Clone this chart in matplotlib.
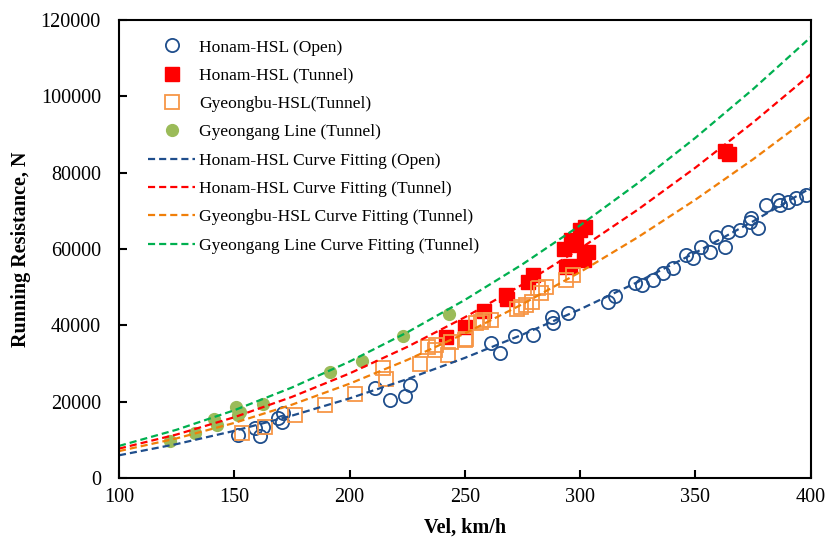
import matplotlib
matplotlib.use("Agg")
import matplotlib.pyplot as plt
import numpy as np

plt.rcParams['font.family'] = ['Liberation Serif', 'DejaVu Serif']

# measured points
open_v = [151.7, 158.9, 161.1, 162.5, 169.0, 170.5, 171.2, 211.0, 217.5, 224.0, 226.1,
          261.5, 265.1, 271.6, 279.6, 287.6, 288.3, 294.8, 312.1, 315.0, 323.7, 326.6,
          331.6, 335.9, 340.3, 346.1, 348.9, 352.6, 356.2, 359.1, 362.7, 364.1, 369.2,
          373.5, 374.3, 377.1, 380.8, 385.8, 386.5, 390.1, 393.8, 398.1]
open_r = [11300, 13200, 11000, 13450, 15700, 14750, 17100, 23600, 20500, 21500, 24300,
          35300, 32800, 37200, 37500, 42300, 40600, 43300, 46200, 47700, 51000, 50600,
          51900, 53600, 54900, 58400, 57600, 60600, 59300, 63200, 60600, 64500, 65000,
          67200, 68000, 65400, 71500, 72800, 71500, 72400, 73300, 74100]

tun_v = [242.0, 250.0, 258.2, 268.0, 268.4, 277.4, 279.6, 292.8, 294.0, 295.5, 296.2,
         298.4, 300.0, 302.0, 301.5, 303.4, 362.7, 364.4]
tun_r = [37000, 39600, 43800, 48000, 46800, 51400, 53300, 60000, 55400, 55600, 62300,
         61000, 64900, 65800, 57000, 59300, 85700, 84900]

gb_v = [153.2, 163.3, 176.3, 189.3, 202.3, 214.6, 216.0, 230.5, 234.1, 237.7, 237.0,
        242.7, 244.2, 250.0, 250.7, 255.0, 257.2, 257.9, 261.5, 272.4, 274.5, 276.7,
        278.9, 281.8, 283.2, 285.4, 294.0, 296.9]
gb_r = [11900, 13400, 16500, 19100, 22000, 28900, 25900, 30000, 34400, 34800, 33500,
        32200, 35700, 36100, 36400, 40500, 41000, 41400, 41400, 44400, 44900, 45300,
        46200, 49700, 48400, 50100, 51900, 53200]

gg_v = [122.1, 132.9, 141.2, 142.3, 150.7, 151.7, 152.5, 162.5, 191.5, 205.5, 223.1, 243.0]
gg_r = [9800, 11700, 15500, 13900, 18500, 16500, 17200, 19400, 27900, 30700, 37200, 43000]

# fitted curves, read every 25 km/h
fit_v = [100, 125, 150, 175, 200, 225, 250, 275, 300, 325, 350, 375, 400]
fit_open = [5950, 8890, 12350, 16340, 20860, 25910, 31480, 37580, 44210, 51370, 59050, 67260, 76000]
fit_tun = [7700, 11400, 15920, 21250, 27400, 34350, 42120, 50700, 60100, 70310, 81330, 93170, 105800]
fit_gb = [7050, 10380, 14430, 19210, 24710, 30930, 37880, 45560, 53960, 63080, 72930, 83510, 94800]
fit_gg = [8400, 12650, 17750, 23710, 30510, 38160, 46660, 56010, 66200, 77250, 89150, 101900, 115500]

fig = plt.figure(figsize=(8.29, 5.44), dpi=100)
ax = fig.add_axes([0.1435, 0.1213, 0.8345, 0.8419])

ax.plot(open_v, open_r, 'o', ms=9.5, mfc='none', mec='#1F4E8C', mew=1.3, ls='none',
        label='Honam-HSL (Open)')
ax.plot(tun_v, tun_r, 's', ms=10, mfc='#FF0000', mec='#FF0000', ls='none',
        label='Honam-HSL (Tunnel)')
ax.plot(gb_v, gb_r, 's', ms=10, mfc='none', mec='#F79646', mew=1.3, ls='none',
        label='Gyeongbu-HSL(Tunnel)')
ax.plot(gg_v, gg_r, 'o', ms=8.5, mfc='#9BBB59', mec='#9BBB59', ls='none',
        label='Gyeongang Line (Tunnel)')

dash = (3.2, 1.8)
ax.plot(fit_v, fit_open, '--', color='#1F4E8C', lw=1.6, dashes=dash,
        label='Honam-HSL Curve Fitting (Open)')
ax.plot(fit_v, fit_tun, '--', color='#FF0000', lw=1.6, dashes=dash,
        label='Honam-HSL Curve Fitting (Tunnel)')
ax.plot(fit_v, fit_gb, '--', color='#F07F09', lw=1.6, dashes=dash,
        label='Gyeongbu-HSL Curve Fitting (Tunnel)')
ax.plot(fit_v, fit_gg, '--', color='#00B050', lw=1.6, dashes=dash,
        label='Gyeongang Line Curve Fitting (Tunnel)')

ax.set_xlim(100, 400)
ax.set_ylim(0, 120000)
ax.set_xticks(np.arange(100, 401, 50))
ax.set_yticks(np.arange(0, 120001, 20000))
ax.tick_params(direction='in', length=6, width=1.5, labelsize=14.5,
               top=False, right=False)
ax.tick_params(axis='y', pad=13)
ax.tick_params(axis='x', pad=7)
for s in ax.spines.values():
    s.set_linewidth(1.5)

ax.set_xlabel('Vel, km/h', fontsize=14.5, fontweight='bold', labelpad=8)
ax.set_ylabel('Running Resistance, N', fontsize=14.5, fontweight='bold', labelpad=7)

ax.legend(loc='upper left', bbox_to_anchor=(0.042, 0.958), frameon=False,
          fontsize=12.6, handlelength=2.7, handletextpad=0.2, labelspacing=0.69,
          borderpad=0, borderaxespad=0)

fig.savefig('out.png', dpi=100)
